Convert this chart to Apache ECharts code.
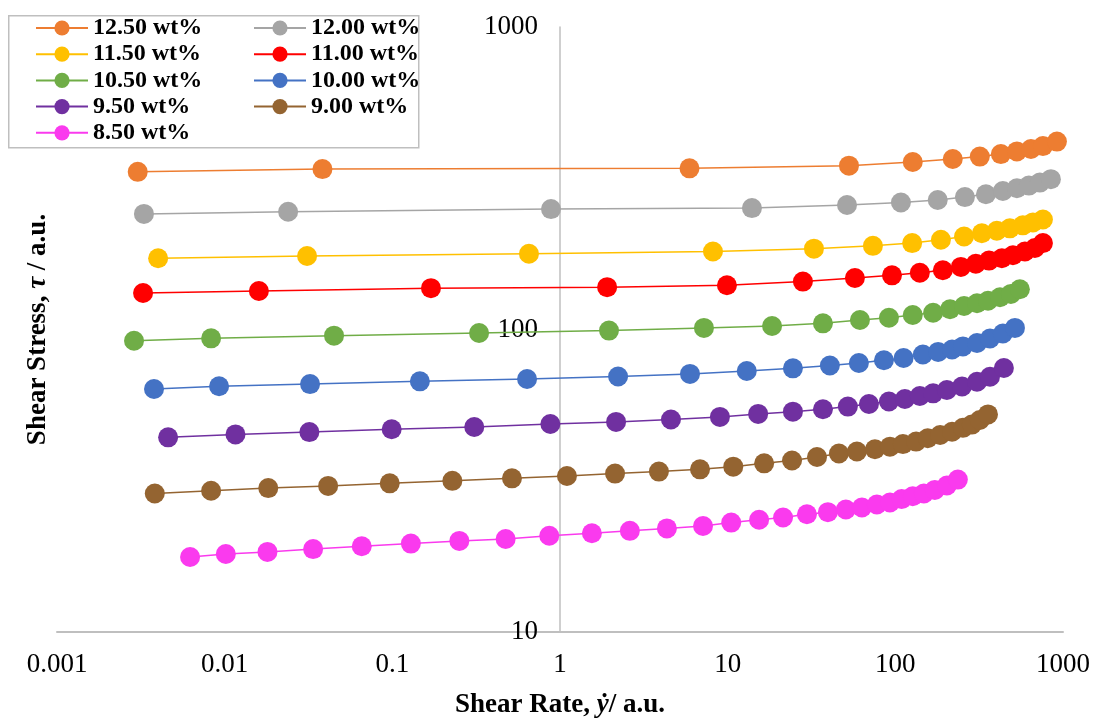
<!DOCTYPE html>
<html>
<head>
<meta charset="utf-8">
<script src="https://cdn.jsdelivr.net/npm/echarts@6/dist/echarts.min.js"></script>
<style>
  html, body { margin: 0; padding: 0; background: #fff; }
  #chart { width: 1094px; height: 720px; }
</style>
</head>
<body>
<div id="chart"></div>
<script>
// Flow curves: shear stress vs shear rate for each concentration
const labels = ['12.50 wt%', '12.00 wt%', '11.50 wt%', '11.00 wt%', '10.50 wt%',
                '10.00 wt%', '9.50 wt%', '9.00 wt%', '8.50 wt%'];
const colors = ['#ED7D31', '#A5A5A5', '#FFC000', '#FF0000', '#70AD47',
                '#4472C4', '#7030A0', '#946431', '#FA3AEE'];

const rate1250 = [0.00303, 0.0383, 5.92, 52.9, 127, 220, 319, 426, 531, 644, 759, 920];
const stress1250 = [332, 339, 341, 348, 358, 366, 373, 380, 388, 395, 404, 418];

const rate1200 = [0.0033, 0.0239, 0.884, 13.96, 51.5, 108, 179, 260, 347, 438, 531, 626, 728, 847];
const stress1200 = [241, 245, 250, 252, 258, 263, 268, 274, 280, 287, 293, 299, 306, 314];

const rate1150 = [0.00401, 0.031, 0.653, 8.17, 32.7, 73.5, 126, 187, 257, 328, 403, 482, 576, 662, 759];
const stress1150 = [172, 175, 178, 181, 185, 189, 193, 198, 203, 208, 212, 216, 221, 226, 231];

const rate1100 = [0.00326, 0.016, 0.17, 1.91, 9.9, 28.1, 57.4, 95.5, 140, 192, 246, 302, 362, 432, 503, 593, 680, 759];
const stress1100 = [132, 134, 137, 138, 140, 144, 148, 151, 154, 157, 161, 165, 169, 172, 176, 181, 186, 193];

const rate1050 = [0.00288, 0.0083, 0.0449, 0.329, 1.96, 7.22, 18.4, 37.0, 61.5, 91.6, 127, 168, 212, 257, 307, 357, 421, 489, 553];
const stress1050 = [91.8, 93.5, 95.4, 97.4, 99.2, 101.2, 102.7, 104.8, 107.5, 109.4, 111.7, 113.6, 116.7, 119.6, 122.1, 124.5, 127.8, 131.1, 135.8];

const rate1000 = [0.00379, 0.00926, 0.0323, 0.146, 0.636, 2.22, 5.96, 13.0, 24.5, 40.7, 60.6, 85.5, 112, 146, 180, 218, 253, 307, 367, 438, 517];
const stress1000 = [63.6, 64.9, 66.0, 67.4, 68.6, 69.9, 71.3, 72.9, 74.4, 76.0, 77.5, 79.1, 80.5, 82.7, 84.3, 85.9, 87.9, 90.2, 93.4, 97.0, 101.2];

const rate950 = [0.0046, 0.0116, 0.032, 0.0991, 0.308, 0.876, 2.16, 4.59, 8.99, 15.2, 24.5, 37.0, 52.1, 69.6, 91.6, 114, 140, 168, 203, 250, 307, 367, 444];
const stress950 = [44.0, 45.0, 45.8, 46.8, 47.6, 48.7, 49.5, 50.4, 51.4, 52.6, 53.5, 54.5, 55.6, 56.7, 57.8, 58.9, 60.3, 61.5, 63.1, 64.8, 67.2, 69.8, 74.6];

const rate900 = [0.00383, 0.0083, 0.0182, 0.0414, 0.0965, 0.228, 0.517, 1.10, 2.13, 3.89, 6.84, 10.8, 16.5, 24.2, 34.1, 46.1, 59.0, 75.6, 92.9, 111, 133, 156, 185, 218, 253, 286, 319, 357];
const stress900 = [28.7, 29.3, 29.9, 30.4, 31.0, 31.6, 32.2, 32.8, 33.4, 33.9, 34.5, 35.2, 36.1, 36.9, 37.9, 38.9, 39.5, 40.2, 41.0, 41.8, 42.6, 43.7, 44.8, 45.9, 47.3, 48.5, 50.2, 52.4];

const rate850 = [0.00622, 0.01016, 0.018, 0.0337, 0.0657, 0.129, 0.251, 0.474, 0.863, 1.55, 2.61, 4.34, 7.13, 10.5, 15.4, 21.4, 29.7, 39.6, 50.7, 63.2, 77.6, 92.9, 109, 127, 148, 172, 203, 236];
const stress850 = [17.7, 18.1, 18.4, 18.8, 19.2, 19.6, 20.0, 20.3, 20.8, 21.2, 21.6, 22.0, 22.4, 23.0, 23.5, 23.9, 24.5, 24.9, 25.4, 25.8, 26.4, 26.8, 27.5, 28.1, 28.7, 29.5, 30.5, 31.9];

const rates = [rate1250, rate1200, rate1150, rate1100, rate1050, rate1000, rate950, rate900, rate850];
const stresses = [stress1250, stress1200, stress1150, stress1100, stress1050, stress1000, stress950, stress900, stress850];

const xTicks = [0.001, 0.01, 0.1, 1, 10, 100, 1000];
const yTicks = [10, 100, 1000];

const serif = '"Liberation Serif", "Times New Roman", serif';

const series = labels.map((name, i) => ({
  name: name,
  type: 'line',
  data: rates[i].map((r, k) => [r, stresses[i][k]]),
  symbol: 'circle',
  symbolSize: 20,
  showSymbol: true,
  itemStyle: { color: colors[i] },
  lineStyle: { color: colors[i], width: 1.5 },
  emphasis: { disabled: true },
  z: 2 + i
}));

const legendBase = {
  orient: 'vertical',
  padding: 0,
  itemWidth: 52,
  itemHeight: 19,
  itemGap: 0.2,
  selectedMode: false,
  textStyle: { fontFamily: serif, fontWeight: 'bold', fontSize: 24, color: '#000', lineHeight: 26 }
};

const titleRich = {
  b: { fontFamily: serif, fontWeight: 'bold', fontSize: 27, color: '#000' },
  i: { fontFamily: serif, fontWeight: 'bold', fontStyle: 'italic', fontSize: 27, color: '#000' }
};

const chart = echarts.init(document.getElementById('chart'), null, { renderer: 'canvas' });
chart.setOption({
  animation: false,
  backgroundColor: '#fff',
  grid: { left: 57, right: 31, top: 27, bottom: 88, containLabel: false, outerBoundsMode: 'none' },
  legend: [
    Object.assign({}, legendBase, { left: 35, top: 15, data: [labels[0], labels[2], labels[4], labels[6], labels[8]] }),
    Object.assign({}, legendBase, { left: 253, top: 15, data: [labels[1], labels[3], labels[5], labels[7]] })
  ],
  graphic: [{
    type: 'rect',
    left: 8, top: 15,
    shape: { width: 410, height: 132 },
    style: { fill: 'rgba(0,0,0,0)', stroke: '#BFBFBF', lineWidth: 1.5 },
    z: 100
  }],
  xAxis: {
    type: 'log',
    logBase: 10,
    min: xTicks[0],
    max: xTicks[xTicks.length - 1],
    axisLine: { show: true, onZero: false, lineStyle: { color: '#BFBFBF', width: 2 } },
    axisTick: { show: false },
    splitLine: { show: false },
    axisLabel: {
      margin: 19, fontFamily: serif, fontSize: 27, color: '#000',
      formatter: v => String(+Number(v).toPrecision(3))
    },
    name: '{b|Shear Rate, }{i|ẏ}{b|/ a.u.}',
    nameLocation: 'middle',
    nameGap: 60,
    nameTextStyle: { rich: titleRich }
  },
  yAxis: {
    type: 'log',
    logBase: 10,
    min: yTicks[0],
    max: yTicks[yTicks.length - 1],
    position: 'left',
    offset: -503,
    axisLine: { show: true, onZero: false, lineStyle: { color: '#BFBFBF', width: 1.5 } },
    axisTick: { show: false },
    splitLine: { show: false },
    axisLabel: {
      margin: 22, fontFamily: serif, fontSize: 27, color: '#000',
      formatter: v => String(Math.round(v))
    },
    name: '{b|Shear Stress, }{i|τ}{b| / a.u.}',
    nameLocation: 'middle',
    nameRotate: 90,
    nameGap: 508,
    nameTextStyle: { rich: titleRich }
  },
  series: series
});
</script>
</body>
</html>
